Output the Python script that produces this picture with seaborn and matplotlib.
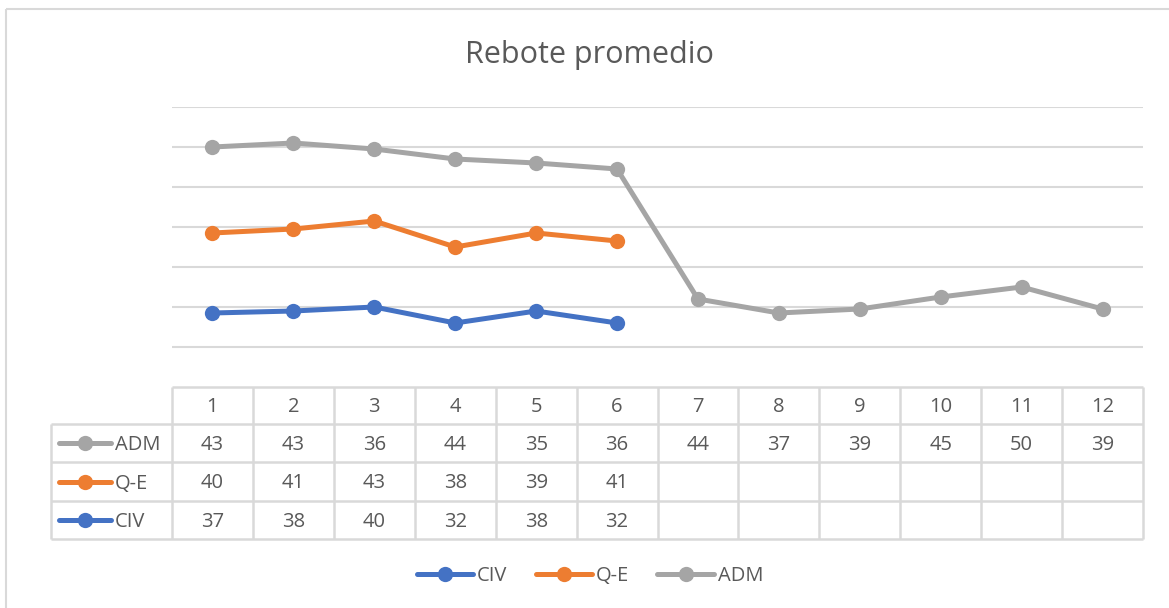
import numpy as np
import pandas as pd
import matplotlib
matplotlib.use("Agg")
import matplotlib.pyplot as plt
from matplotlib.lines import Line2D
from matplotlib.patches import Rectangle
import seaborn as sns

sns.set_theme(style="white")
plt.rcParams['font.family'] = ['Open Sans', 'DejaVu Sans']

months = list(range(1, 13))
series = ['ADM', 'Q-E', 'CIV']
adm = [43, 43, 36, 44, 35, 36, 44, 37, 39, 45, 50, 39]
qe = [40, 41, 43, 38, 39, 41, None, None, None, None, None, None]
civ = [37, 38, 40, 32, 38, 32, None, None, None, None, None, None]
title = 'Rebote promedio'

colors = {'CIV': '#4472C4', 'Q-E': '#ED7D31', 'ADM': '#A5A5A5'}
txt = '#595959'
grid = '#D9D9D9'

df = pd.DataFrame({'x': months, 'ADM': adm, 'Q-E': qe, 'CIV': civ}, dtype=float)
# stacked line chart: each series sits on top of the ones below
stack = pd.DataFrame({'x': df['x']})
stack['CIV'] = df['CIV']
stack['Q-E'] = df['CIV'].fillna(0) + df['Q-E']
stack['ADM'] = df['CIV'].fillna(0) + df['Q-E'].fillna(0) + df['ADM']

W, H = 1169, 608
fig = plt.figure(figsize=(W / 100, H / 100), dpi=100)

# pixel-space overlay for the border and the data table
bg = fig.add_axes([0, 0, 1, 1], zorder=0)
bg.set_xlim(0, W)
bg.set_ylim(H, 0)
bg.axis('off')
bg.add_patch(Rectangle((6, 9), W + 20, H + 20, fill=False, edgecolor=grid, lw=1.5))

# plot area in pixels
px0, px1, py0, py1 = 172, 1143, 107, 387
ax = fig.add_axes([px0 / W, (H - py1) / H, (px1 - px0) / W, (py1 - py0) / H], zorder=2)
ax.set_facecolor('none')

LW, MS = 3.6, 11
for name in ['CIV', 'Q-E', 'ADM']:
    sns.lineplot(data=stack, x='x', y=name, ax=ax, color=colors[name], lw=LW,
                 marker='o', markersize=MS, markeredgewidth=0, errorbar=None,
                 solid_capstyle='round')

ax.set_xlim(0.5, 12.5)
ax.set_ylim(0, 140)
ax.set_yticks(np.arange(20, 141, 20))
ax.yaxis.grid(True, color=grid, lw=1.5)
ax.set_axisbelow(True)
ax.tick_params(left=False, bottom=False, labelleft=False, labelbottom=False)
ax.set_xlabel('')
ax.set_ylabel('')
for s in ax.spines.values():
    s.set_visible(False)

fig.text(589 / W, 1 - 55 / H, title, ha='center', va='center', fontsize=22, color=txt)

# data table
cw = (px1 - px0) / 12
rows = [387, 424, 462, 501, 539]
tl = 51
FS = 14.5
dy = 2  # small nudge so digits sit centred like the original
bg.hlines(rows[0], px0, px1, color=grid, lw=1.8)
bg.hlines(rows[1:], tl, px1, color=grid, lw=1.8)
bg.vlines(tl, rows[1], rows[-1], color=grid, lw=1.8)
for i in range(13):
    bg.vlines(px0 + i * cw, rows[0], rows[-1], color=grid, lw=1.8)

for i, m in enumerate(months):
    bg.text(px0 + (i + 0.5) * cw, (rows[0] + rows[1]) / 2 + dy, str(m), ha='center',
            va='center', fontsize=FS, color=txt)

for r, name in enumerate(series):
    yc = (rows[r + 1] + rows[r + 2]) / 2
    bg.add_line(Line2D([59, 111], [yc, yc], color=colors[name], lw=LW,
                       solid_capstyle='round'))
    bg.plot([85], [yc], 'o', color=colors[name], markersize=MS, markeredgewidth=0)
    bg.text(115, yc + dy, name, ha='left', va='center', fontsize=FS, color=txt)
    for i, v in enumerate(df[name]):
        if not np.isnan(v):
            bg.text(px0 + (i + 0.5) * cw, yc + dy, f'{int(v)}', ha='center', va='center',
                    fontsize=FS, color=txt)

# legend
handles = [Line2D([], [], color=colors[n], lw=LW, marker='o', markersize=MS,
                  markeredgewidth=0, solid_capstyle='round') for n in ['CIV', 'Q-E', 'ADM']]
fig.legend(handles, ['CIV', 'Q-E', 'ADM'], loc='center', bbox_to_anchor=(590 / W, 1 - 576 / H),
           ncol=3, frameon=False, fontsize=FS, handlelength=2.8, handletextpad=0.2,
           columnspacing=1.4, labelcolor=txt)

fig.savefig('out.png', dpi=100)
